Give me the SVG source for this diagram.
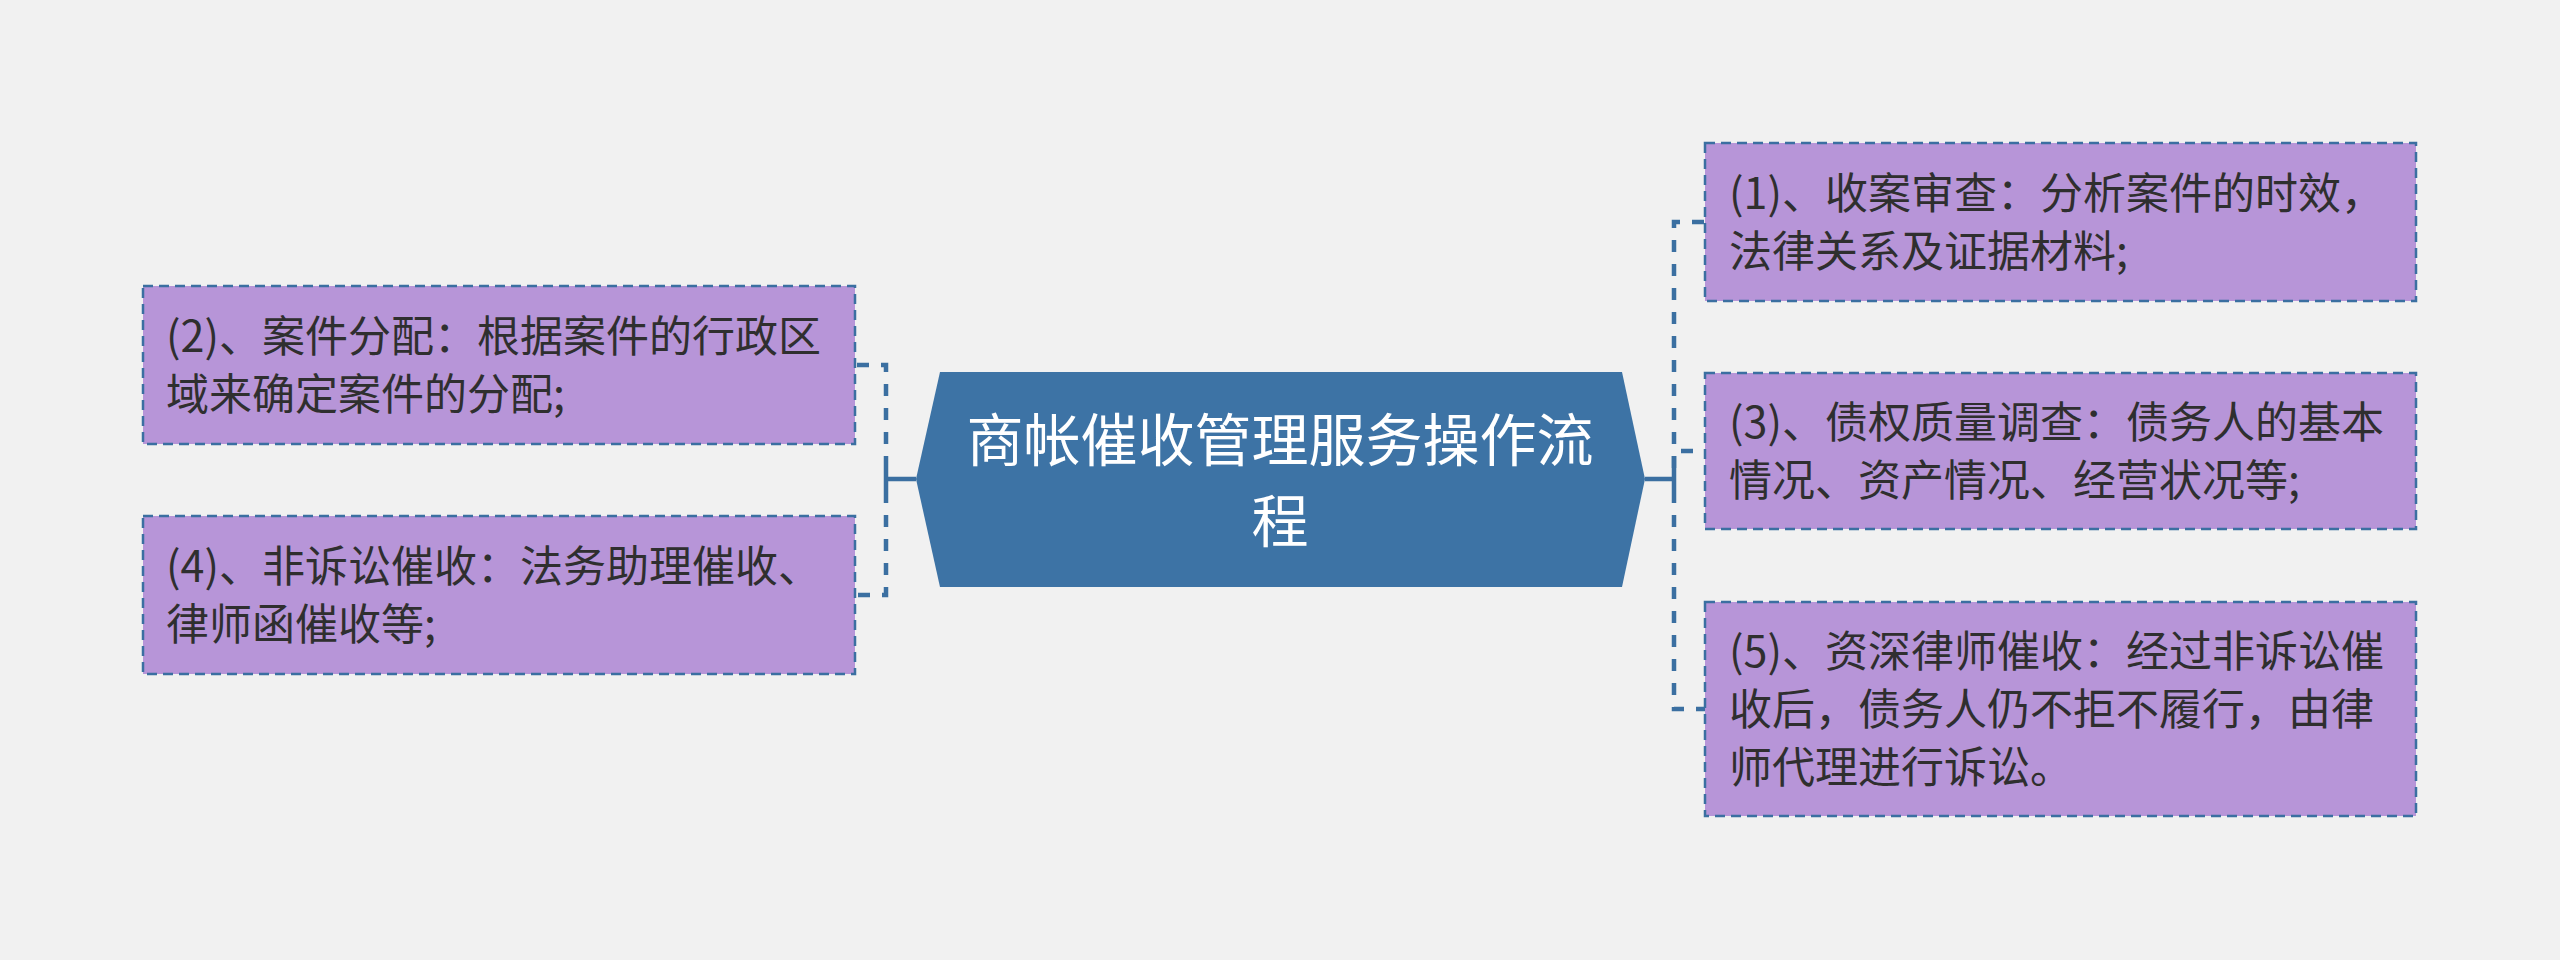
<svg xmlns="http://www.w3.org/2000/svg" width="2560" height="960" viewBox="0 0 2560 960">
<style>
.bg{fill:#f1f1f1}
.node{fill:#b795d8;stroke:#3b6fa1;stroke-width:2.5;stroke-dasharray:10 6}
.t{font-family:"Noto Sans CJK SC","Noto Sans",sans-serif;font-size:43px;fill:#2f2f2f}
.ct{font-family:"Noto Sans CJK SC","Noto Sans",sans-serif;font-size:57px;fill:#ffffff;text-anchor:middle}
.dash{fill:none;stroke:#3b6fa1;stroke-width:4.5;stroke-dasharray:12 12}
.solid{fill:none;stroke:#3b6fa1;stroke-width:4.5}
</style>
<rect class="bg" x="0" y="0" width="2560" height="960"/>
<g id="connectors">
<path class="solid" d="M916,479 H886 M886,468 V491"/>
<path class="dash" d="M886,468 V365 H855"/>
<path class="dash" d="M886,491 V595 H855"/>
<path class="solid" d="M1645,479 H1674 M1674,468 V491"/>
<path class="dash" d="M1674,468 V222 H1705"/>
<path class="dash" d="M1674,468 V451 H1705"/>
<path class="dash" d="M1674,491 V709 H1705"/>
</g>
<g id="center">
<polygon points="940,372 1622,372 1645,479 1622,587 940,587 916,479" fill="#3d73a5"/>
<text class="ct" x="1280" y="461">商帐催收管理服务操作流</text>
<text class="ct" x="1280" y="542">程</text>
</g>
<g id="node2">
<rect class="node" x="143" y="286" width="712" height="158"/>
<text class="t" x="166" y="352">(2)、案件分配：根据案件的行政区</text>
<text class="t" x="166" y="410">域来确定案件的分配;</text>
</g>
<g id="node4">
<rect class="node" x="143" y="516" width="712" height="158"/>
<text class="t" x="166" y="582">(4)、非诉讼催收：法务助理催收、</text>
<text class="t" x="166" y="640">律师函催收等;</text>
</g>
<g id="node1">
<rect class="node" x="1705" y="143" width="711" height="158"/>
<text class="t" x="1729" y="209">(1)、收案审查：分析案件的时效，</text>
<text class="t" x="1729" y="267">法律关系及证据材料;</text>
</g>
<g id="node3">
<rect class="node" x="1705" y="373" width="711" height="156"/>
<text class="t" x="1729" y="438">(3)、债权质量调查：债务人的基本</text>
<text class="t" x="1729" y="496">情况、资产情况、经营状况等;</text>
</g>
<g id="node5">
<rect class="node" x="1705" y="602" width="711" height="214"/>
<text class="t" x="1729" y="667">(5)、资深律师催收：经过非诉讼催</text>
<text class="t" x="1729" y="725">收后，债务人仍不拒不履行，由律</text>
<text class="t" x="1729" y="783">师代理进行诉讼。</text>
</g>
</svg>
